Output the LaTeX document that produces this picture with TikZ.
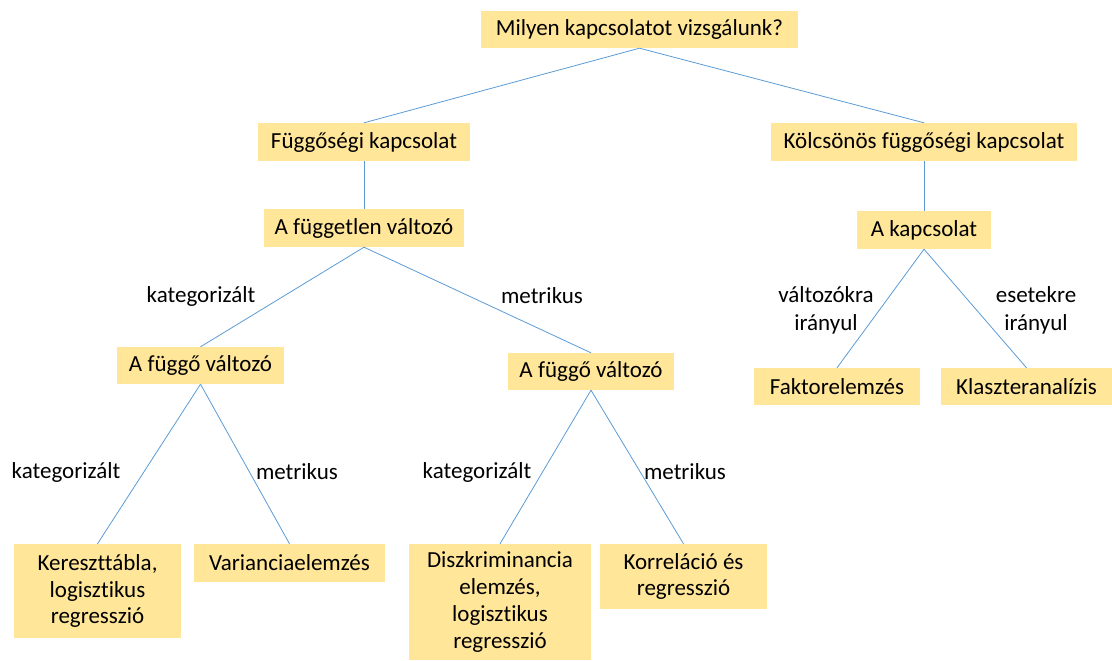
\documentclass[tikz,border=0pt]{standalone}
\usepackage{fontspec}
\setmainfont{Carlito}[RawFeature={-liga}]
\definecolor{boxfill}{HTML}{FFE699}
\definecolor{edgecol}{HTML}{5B9BD5}
\begin{document}
\begin{tikzpicture}[x=1pt,y=-1pt,
  box/.style={fill=boxfill,inner sep=0pt,align=center,font=\fontsize{23}{26.7}\selectfont},
  lbl/.style={inner sep=0pt,align=center,font=\fontsize{23}{28}\selectfont},
  conn/.style={draw=edgecol,line width=0.8pt}]
\useasboundingbox (0,0) rectangle (1112,661);
\node[box,minimum width=317,minimum height=37] (top) at (639.5,29.5) {Milyen kapcsolatot vizsgálunk?};
\node[box,minimum width=212,minimum height=38] (fugg) at (364,142) {Függőségi kapcsolat};
\node[box,minimum width=306,minimum height=38] (kolcs) at (924,142) {Kölcsönös függőségi kapcsolat};
\node[box,minimum width=200,minimum height=38] (flen) at (364,228) {A független változó};
\node[box,minimum width=134,minimum height=38] (kapcs) at (924,230) {A kapcsolat};
\node[box,minimum width=167,minimum height=37] (fuggoL) at (200.5,365.5) {A függő változó};
\node[box,minimum width=166,minimum height=37] (fuggoR) at (591,371.5) {A függő változó};
\node[box,minimum width=166,minimum height=37] (faktor) at (837,386.5) {Faktorelemzés};
\node[box,minimum width=171,minimum height=37] (klaszter) at (1026.5,386.5) {Klaszteranalízis};
\node[box,minimum width=167,minimum height=94] (kereszt) at (97.5,591) {Kereszttábla,\\logisztikus\\regresszió};
\node[box,minimum width=191,minimum height=38] (varia) at (289.5,563) {Varianciaelemzés};
\node[box,minimum width=182,minimum height=116] (diszkr) at (500,602) {Diszkriminancia\\elemzés,\\logisztikus\\regresszió};
\node[box,minimum width=167,minimum height=65] (korrel) at (683.5,576.5) {Korreláció és\\regresszió};

\draw[conn] (top.south) -- (fugg.north);
\draw[conn] (top.south) -- (kolcs.north);
\draw[conn] (fugg.south) -- (flen.north);
\draw[conn] (kolcs.south) -- (kapcs.north);
\draw[conn] (flen.south) -- (fuggoL.north);
\draw[conn] (flen.south) -- (fuggoR.north);
\draw[conn] (fuggoL.south) -- (kereszt.north);
\draw[conn] (fuggoL.south) -- (varia.north);
\draw[conn] (fuggoR.south) -- (diszkr.north);
\draw[conn] (fuggoR.south) -- (korrel.north);
\draw[conn] (kapcs.south) -- (faktor.north);
\draw[conn] (kapcs.south) -- (klaszter.north);

\node[lbl] (l1) at (201,296) {kategorizált};
\node[lbl] (l2) at (542,296) {metrikus};
\node[lbl] (l3) at (66,472) {kategorizált};
\node[lbl] (l4) at (297,472) {metrikus};
\node[lbl] (l5) at (477,472) {kategorizált};
\node[lbl] (l6) at (685,472) {metrikus};
\node[lbl] (l7) at (826,310) {változókra\\irányul};
\node[lbl] (l8) at (1036,310) {esetekre\\irányul};
\end{tikzpicture}
\end{document}
